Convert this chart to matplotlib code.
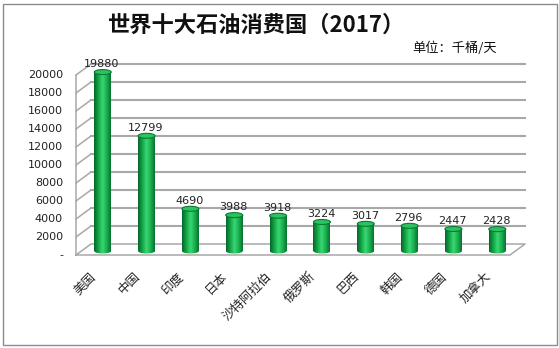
import numpy as np
import matplotlib.pyplot as plt
from matplotlib.patches import Rectangle, Ellipse
from matplotlib.colors import LinearSegmentedColormap

plt.rcParams['font.family'] = ['Noto Sans CJK SC', 'DejaVu Sans']

countries = ['美国', '中国', '印度', '日本', '沙特阿拉伯', '俄罗斯', '巴西', '韩国', '德国', '加拿大']
consumption = [19880, 12799, 4690, 3988, 3918, 3224, 3017, 2796, 2447, 2428]
yticks = list(range(0, 20001, 2000))
ytick_labels = ['-'] + [str(v) for v in yticks[1:]]

W, H = 559, 348
fig = plt.figure(figsize=(W / 100, H / 100), dpi=100)
fig.patch.set_facecolor('white')

# front plane of the 3D box, in pixels: x 76..510, y 255 (0) .. 75 (20000)
ax = fig.add_axes([76 / W, (H - 255) / H, 434 / W, 180 / H])
x0, x1 = -0.45, 9.45
ax.set_xlim(x0, x1)
ax.set_ylim(0, 20000)
ax.axis('off')

px_x = (x1 - x0) / 434      # index units per pixel
px_y = 20000 / 180          # value units per pixel
dx, dy = 15 * px_x, 11 * px_y   # depth offset of back wall
grid_c = '#a8a8a8'
num_font = 'DejaVu Sans'

# back wall gridlines with slanted left-wall part
for v in yticks[1:]:
    ax.plot([x0, x0 + dx], [v, v + dy], color=grid_c, lw=1.1, clip_on=False)
    ax.plot([x0 + dx, x1 + dx], [v + dy, v + dy], color=grid_c, lw=1.5, clip_on=False)
# floor and left edge
ax.plot([x0, x1, x1 + dx, x0 + dx, x0], [0, 0, dy, dy, 0], color=grid_c, lw=1.1, clip_on=False)
ax.plot([x0, x0], [0, 20000], color=grid_c, lw=1.1, clip_on=False)

# y tick labels on the front edge
for v, lab in zip(yticks, ytick_labels):
    ax.text(x0 - 13 * px_x, v, lab, ha='right', va='center', fontsize=8,
            family=num_font, color='#222222')

# cylinders
cmap = LinearSegmentedColormap.from_list('cyl', ['#05662a', '#12a345', '#3ad874', '#1bb04f', '#067030'])
grad = np.linspace(0, 1, 128).reshape(1, -1)
bw = 17 * px_x
eh = 5 * px_y
base = 4 * px_y
for i, v in enumerate(consumption):
    cx = i + 7 * px_x
    left = cx - bw / 2
    top = base + v
    body = Rectangle((left, base), bw, v, transform=ax.transData, facecolor='none', edgecolor='none')
    bottom = Ellipse((cx, base), bw, eh, transform=ax.transData, facecolor='none', edgecolor='none')
    for clip in (body, bottom):
        ax.add_patch(clip)
        im = ax.imshow(grad, cmap=cmap, extent=[left, left + bw, base - eh, top],
                       aspect='auto', zorder=3, interpolation='bilinear')
        im.set_clip_path(clip)
    ax.add_patch(Ellipse((cx, top), bw, eh, facecolor='#2cc260', edgecolor='#0a7a35',
                         lw=0.8, zorder=4, clip_on=False))
    ax.text(cx - 1 * px_x, top + 8 * px_y, str(v), ha='center', va='center',
            fontsize=8, family=num_font, color='#222222', zorder=5, clip_on=False)
    ax.text(cx - 4 * px_x, -15 * px_y, countries[i], ha='right', va='top', rotation=45,
            fontsize=9, color='#222222', clip_on=False)

fig.text(256 / W, 1 - 25 / H, '世界十大石油消费国（2017）', ha='center', va='center',
         fontsize=16, fontweight='bold', color='#111111')
fig.text(497 / W, 1 - 48 / H, '单位：千桶/天', ha='right', va='center', fontsize=9.5, color='#111111')

fig.patches.append(Rectangle((3 / W, 3 / H), 554 / W, 341 / H, transform=fig.transFigure,
                             facecolor='none', edgecolor='#8c8c8c', lw=1))

fig.savefig('out.png', dpi=100)
